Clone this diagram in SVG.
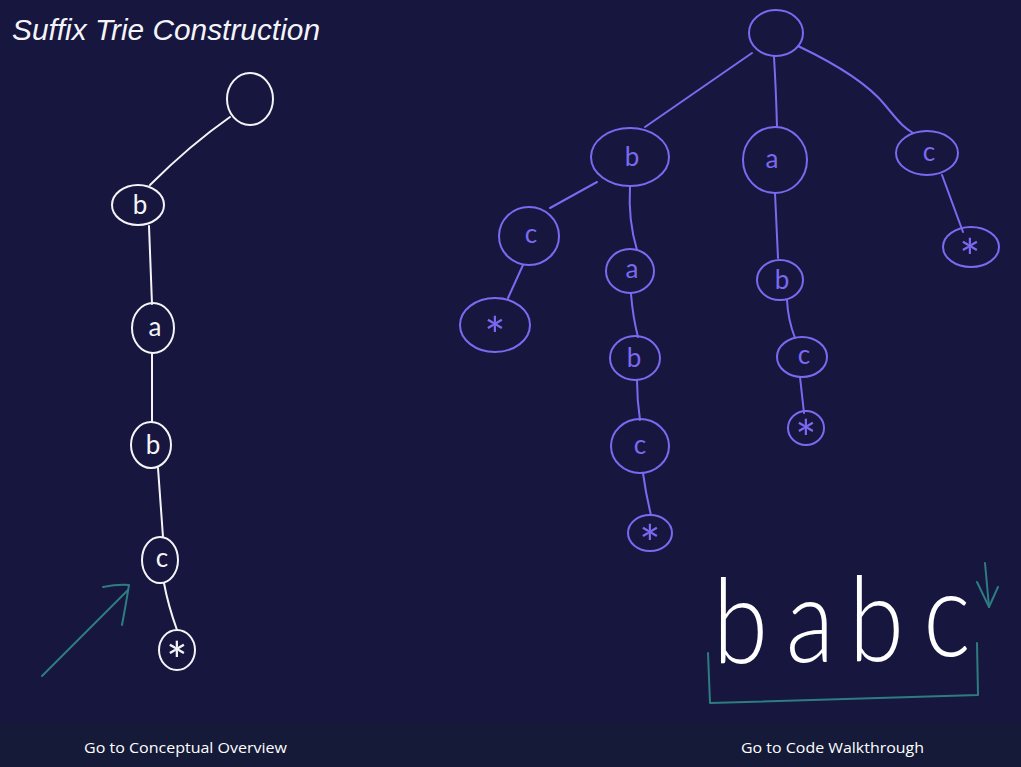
<svg xmlns="http://www.w3.org/2000/svg" width="1021" height="767" viewBox="0 0 1021 767">
<style>
.w{fill:none;stroke:#f4f4f8;stroke-width:2;stroke-linecap:round;stroke-linejoin:round}
.p{fill:none;stroke:#7b69f0;stroke-width:2;stroke-linecap:round;stroke-linejoin:round}
.t{fill:none;stroke:#2d7c80;stroke-width:2;stroke-linecap:round;stroke-linejoin:round}
.lw{fill:#f4f4f8;font-family:Lato,"DejaVu Sans",sans-serif;font-weight:400;font-size:26px;text-anchor:middle}
.lp{fill:#7b69f0;font-family:Lato,"DejaVu Sans",sans-serif;font-weight:400;font-size:26px;text-anchor:middle}
.ast{font-size:50px}
.foot{fill:#ffffff;font-family:"Open Sans",sans-serif;font-size:15px}
</style>
<rect width="1021" height="767" fill="#16163f"/>
<rect y="723" width="1021" height="44" fill="#151a38"/>
<text x="12" y="40" fill="#f4f4f8" font-family="Liberation Sans, Arial, sans-serif" font-style="italic" font-size="29.5" textLength="308" lengthAdjust="spacingAndGlyphs">Suffix Trie Construction</text>

<g id="connectors">
<path class="w" d="M230,117 Q190,145 150,185"/>
<path class="w" d="M149,226 L152,304"/>
<path class="w" d="M152,354 L152,422"/>
<path class="w" d="M158,468 L163,537"/>
<path class="w" d="M164,583 Q168,605 177,630"/>
<path class="p" d="M752,53 L645,127"/>
<path class="p" d="M774,57 Q776,90 777,127"/>
<path class="p" d="M798,46 C840,66 868,84 885,105 S905,128 913,133"/>
<path class="p" d="M597,182 L550,208"/>
<path class="p" d="M630,187 Q628,220 637,250"/>
<path class="p" d="M523,265 L508,298"/>
<path class="p" d="M631,294 Q633,318 638,337"/>
<path class="p" d="M637,380 Q637,400 640,420"/>
<path class="p" d="M643,473 Q646,495 651,515"/>
<path class="p" d="M775,193 L778,258"/>
<path class="p" d="M787,300 Q788,320 795,338"/>
<path class="p" d="M800,377 Q802,395 804,413"/>
<path class="p" d="M942,175 L963,232"/>
</g>

<g id="annotations">
<path class="t" d="M42,676 L128,590"/>
<path class="t" d="M103,587 Q118,584 129,585 Q126,604 122,625"/>
<path class="t" d="M708,653 L710,703 L978,695 L977,643"/>
<path class="t" d="M985,563 L989,607"/>
<path class="t" d="M977,582 L989,607 L998,587"/>
<text transform="matrix(0.85 0 0 1 0 0)" fill="#ffffff" font-family="Lato, 'DejaVu Sans', sans-serif" font-weight="300" font-size="118" text-anchor="middle" x="871 953 1031 1114" y="663 662 661 656">babc</text>
</g>

<g id="L0"><ellipse class="w" cx="250" cy="99" rx="23" ry="26"/></g>
<g id="L1"><ellipse class="w" cx="138" cy="205" rx="26" ry="20"/><text class="lw" x="140" y="214">b</text></g>
<g id="L2"><ellipse class="w" cx="153" cy="328" rx="21" ry="25"/><text class="lw" x="155" y="336">a</text></g>
<g id="L3"><ellipse class="w" cx="151" cy="445" rx="20" ry="23"/><text class="lw" x="153" y="454">b</text></g>
<g id="L4"><ellipse class="w" cx="160" cy="560" rx="18" ry="23"/><text class="lw" x="162" y="567">c</text></g>
<g id="L5"><ellipse class="w" cx="177" cy="650" rx="18" ry="20"/><text class="lw ast" x="177" y="679">*</text></g>

<g id="R0"><ellipse class="p" cx="776" cy="33" rx="27" ry="23"/></g>
<g id="Rb"><ellipse class="p" cx="630" cy="157" rx="39" ry="29"/><text class="lp" x="632" y="166">b</text></g>
<g id="Ra"><ellipse class="p" cx="775" cy="160" rx="32" ry="33"/><text class="lp" x="772" y="168">a</text></g>
<g id="Rc"><ellipse class="p" cx="927" cy="153" rx="31" ry="22"/><text class="lp" x="929" y="161">c</text></g>
<g id="Rbc"><ellipse class="p" cx="529" cy="236" rx="30" ry="29"/><text class="lp" x="531" y="243">c</text></g>
<g id="Rbcs"><ellipse class="p" cx="495" cy="325" rx="35" ry="27"/><text class="lp ast" x="495" y="354">*</text></g>
<g id="Rba"><ellipse class="p" cx="630" cy="271" rx="24" ry="22"/><text class="lp" x="632" y="278">a</text></g>
<g id="Rbab"><ellipse class="p" cx="635" cy="358" rx="25" ry="22"/><text class="lp" x="634" y="367">b</text></g>
<g id="Rbabc"><ellipse class="p" cx="640" cy="446" rx="29" ry="27"/><text class="lp" x="640" y="454">c</text></g>
<g id="Rbabcs"><ellipse class="p" cx="650" cy="533" rx="22" ry="18"/><text class="lp ast" x="650" y="562">*</text></g>
<g id="Rab"><ellipse class="p" cx="780" cy="280" rx="23" ry="20"/><text class="lp" x="782" y="289">b</text></g>
<g id="Rabc"><ellipse class="p" cx="802" cy="357" rx="25" ry="20"/><text class="lp" x="804" y="364">c</text></g>
<g id="Rabcs"><ellipse class="p" cx="806" cy="428" rx="18" ry="17"/><text class="lp ast" x="806" y="457">*</text></g>
<g id="Rcs"><ellipse class="p" cx="971" cy="247" rx="28" ry="20"/><text class="lp ast" x="970" y="276">*</text></g>

<g id="footer">
<text class="foot" x="84" y="753" textLength="203" lengthAdjust="spacingAndGlyphs">Go to Conceptual Overview</text>
<text class="foot" x="741" y="753" textLength="183" lengthAdjust="spacingAndGlyphs">Go to Code Walkthrough</text>
</g>
</svg>
